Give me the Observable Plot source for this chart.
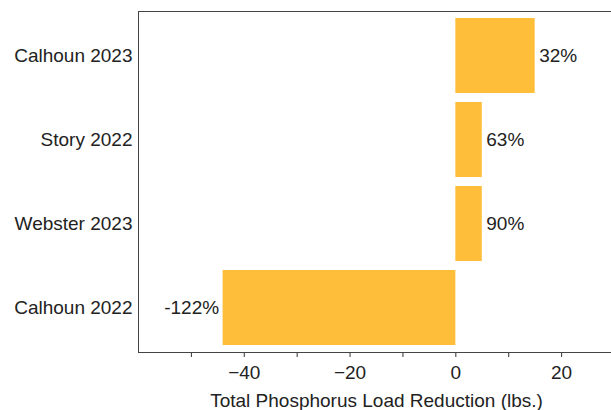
<!DOCTYPE html>
<html>
<head>
<meta charset="utf-8">
<script src="https://cdn.jsdelivr.net/npm/d3@7"></script>
<script src="https://cdn.jsdelivr.net/npm/@observablehq/plot@0.6"></script>
<style>
  html, body { margin: 0; padding: 0; background: #fff; overflow: hidden; }
  svg { max-width: none !important; }
</style>
</head>
<body>
<div id="chart"></div>
<script>
const sites = ["Calhoun 2023", "Story 2022", "Webster 2023", "Calhoun 2022"];
const reductions = [15, 5, 5, -44];
const percentLabels = ["32%", "63%", "90%", "-122%"];
const xTicks = [-40, -20, 0, 20];
const xMinorTicks = [-50, -30, -10, 10];

const data = sites.map((s, i) => ({site: s, value: reductions[i], label: percentLabels[i]}));

const font = "'Liberation Sans', Arial, Helvetica, sans-serif";
const fmt = d => d < 0 ? "\u2212" + Math.abs(d) : String(d);

const chart = Plot.plot({
  width: 615,
  height: 410,
  marginLeft: 138,
  marginRight: 1,
  marginTop: 11,
  marginBottom: 58,
  style: {fontFamily: font, fontSize: "19px", color: "#222", background: "#fff"},
  x: {domain: [-60, 30], label: null},
  y: {domain: sites, paddingInner: 0.106, paddingOuter: 0.06, label: null},
  marks: [
    Plot.barX(data, {y: "site", x: "value", fill: "#FEBE39"}),
    Plot.text(data.filter(d => d.value >= 0), {y: "site", x: "value", text: "label", textAnchor: "start", dx: 4, fill: "#222", fontSize: 19}),
    Plot.text(data.filter(d => d.value < 0), {y: "site", x: "value", text: "label", textAnchor: "end", dx: -4, fill: "#222", fontSize: 19}),
    Plot.axisX({ticks: xTicks, tickSize: 5, tickPadding: 8, tickFormat: fmt, label: null, stroke: "#333", fill: "#222", fontSize: 19}),
    Plot.axisX({ticks: xMinorTicks, tickSize: 5, tickFormat: () => "", label: null, stroke: "#333"}),
    Plot.axisY({tickSize: 0, tickPadding: 6, label: null, fontSize: 19, fill: "#222"}),
    Plot.frame({stroke: "#444"}),
    Plot.text(["Total Phosphorus Load Reduction (lbs.)"], {frameAnchor: "bottom", x: () => -15, dy: 54, text: d => d, fontSize: 19, fill: "#222"})
  ]
});
document.getElementById("chart").appendChild(chart);
</script>
</body>
</html>
